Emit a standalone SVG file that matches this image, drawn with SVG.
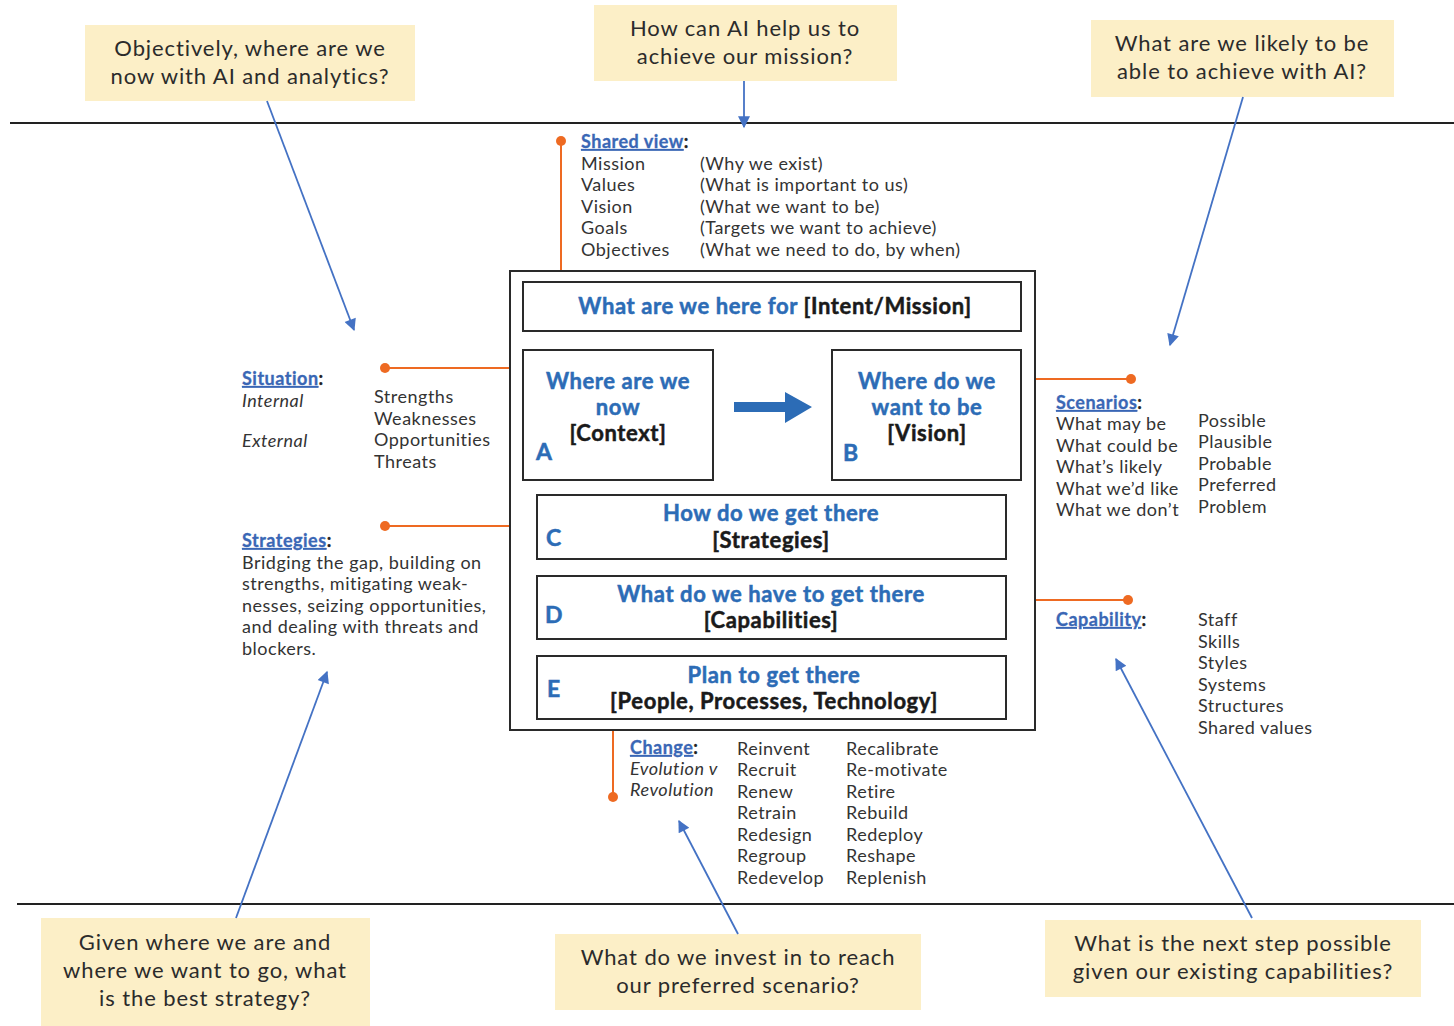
<svg xmlns="http://www.w3.org/2000/svg" width="1454" height="1026" viewBox="0 0 1454 1026">
<defs>
<style>
.q{fill:#FCEFC7;}
.qt{font-family:Lato,"Noto Sans",sans-serif;font-size:22px;letter-spacing:0.9px;fill:#2b2b2b;text-anchor:middle;}
.t{font-family:Lato,"Noto Sans",sans-serif;font-size:18px;letter-spacing:0.5px;fill:#333;}
.i{font-style:italic;}
.h{font-family:Lato,"Noto Sans",sans-serif;font-size:18px;letter-spacing:0.5px;font-weight:bold;fill:#222;stroke:#222;stroke-width:0.3;}
.u{fill:#3A67B5;stroke:#3A67B5;text-decoration:underline;}
.box{fill:none;stroke:#2a2a2a;stroke-width:2;}
.bt{font-family:Lato,"Noto Sans",sans-serif;font-size:22px;letter-spacing:0.6px;font-weight:bold;fill:#2C6CB6;stroke:#2C6CB6;stroke-width:0.5;text-anchor:middle;}
.bk{fill:#1a1a1a;stroke:#1a1a1a;}
.lt{font-family:Lato,"Noto Sans",sans-serif;font-size:23px;font-weight:bold;fill:#2C6CB6;stroke:#2C6CB6;stroke-width:0.5;}
.rule{stroke:#222;stroke-width:2;}
.blue{stroke:#4472C4;stroke-width:1.8;fill:none;marker-end:url(#ah);}
.or{stroke:#EE6A22;stroke-width:2;fill:none;}
.dot{fill:#EE6A22;}
</style>
<marker id="ah" viewBox="0 0 10 10" refX="9" refY="5" markerWidth="14" markerHeight="12" markerUnits="userSpaceOnUse" orient="auto">
<path d="M0,0 L10,5 L0,10 z" fill="#4472C4"/>
</marker>
</defs>

<g id="rules">
<line class="rule" x1="10" y1="123" x2="1454" y2="123"/>
<line class="rule" x1="17" y1="904" x2="1454" y2="904"/>
</g>

<g id="q1"><rect class="q" x="85" y="25" width="330" height="76"/>
<text class="qt" x="250" y="56">Objectively, where are we</text>
<text class="qt" x="250" y="84">now with AI and analytics?</text></g>
<g id="q2"><rect class="q" x="594" y="5" width="303" height="76"/>
<text class="qt" x="745" y="36">How can AI help us to</text>
<text class="qt" x="745" y="64">achieve our mission?</text></g>
<g id="q3"><rect class="q" x="1091" y="20" width="303" height="77"/>
<text class="qt" x="1242" y="51">What are we likely to be</text>
<text class="qt" x="1242" y="79">able to achieve with AI?</text></g>
<g id="q4"><rect class="q" x="41" y="918" width="329" height="108"/>
<text class="qt" x="205" y="950">Given where we are and</text>
<text class="qt" x="205" y="978">where we want to go, what</text>
<text class="qt" x="205" y="1006">is the best strategy?</text></g>
<g id="q5"><rect class="q" x="555" y="934" width="366" height="76"/>
<text class="qt" x="738" y="965">What do we invest in to reach</text>
<text class="qt" x="738" y="993">our preferred scenario?</text></g>
<g id="q6"><rect class="q" x="1045" y="920" width="376" height="77"/>
<text class="qt" x="1233" y="951">What is the next step possible</text>
<text class="qt" x="1233" y="979">given our existing capabilities?</text></g>

<g id="connectors">
<line class="blue" x1="267" y1="101" x2="354" y2="330"/>
<line class="blue" x1="744" y1="81" x2="744" y2="127"/>
<line class="blue" x1="1243" y1="97" x2="1170" y2="345"/>
<line class="blue" x1="236" y1="918" x2="327" y2="672"/>
<line class="blue" x1="738" y1="934" x2="679" y2="821"/>
<line class="blue" x1="1252" y1="918" x2="1116" y2="659"/>
<line class="or" x1="561" y1="141" x2="561" y2="271"/><circle class="dot" cx="561" cy="141" r="5"/>
<line class="or" x1="385" y1="368" x2="510" y2="368"/><circle class="dot" cx="385" cy="368" r="5"/>
<line class="or" x1="385" y1="526" x2="510" y2="526"/><circle class="dot" cx="385" cy="526" r="5"/>
<line class="or" x1="1036" y1="379" x2="1131" y2="379"/><circle class="dot" cx="1131" cy="379" r="5"/>
<line class="or" x1="1036" y1="600" x2="1128" y2="600"/><circle class="dot" cx="1128" cy="600" r="5"/>
<line class="or" x1="613" y1="731" x2="613" y2="797"/><circle class="dot" cx="613" cy="797" r="5"/>
<path d="M734,402 H785 V392 L812,407 L785,423 V412 H734 z" fill="#2C6CB6"/>
</g>

<g id="framework"><rect class="box" x="510" y="271" width="525" height="459"/></g>

<g id="mission"><rect class="box" x="523" y="282" width="498" height="49"/>
<text class="bt" x="775" y="314">What are we here for <tspan class="bk">[Intent/Mission]</tspan></text></g>

<g id="nodeA"><rect class="box" x="523" y="350" width="190" height="130"/>
<text class="bt" x="618" y="389">Where are we</text>
<text class="bt" x="618" y="415">now</text>
<text class="bt bk" x="618" y="441">[Context]</text>
<text class="lt" x="536" y="460">A</text></g>

<g id="nodeB"><rect class="box" x="832" y="350" width="189" height="130"/>
<text class="bt" x="927" y="389">Where do we</text>
<text class="bt" x="927" y="415">want to be</text>
<text class="bt bk" x="927" y="441">[Vision]</text>
<text class="lt" x="843" y="461">B</text></g>

<g id="nodeC"><rect class="box" x="537" y="495" width="469" height="64"/>
<text class="bt" x="771" y="521">How do we get there</text>
<text class="bt bk" x="771" y="548">[Strategies]</text>
<text class="lt" x="546" y="546">C</text></g>

<g id="nodeD"><rect class="box" x="537" y="576" width="469" height="63"/>
<text class="bt" x="771" y="602">What do we have to get there</text>
<text class="bt bk" x="771" y="628">[Capabilities]</text>
<text class="lt" x="545" y="623">D</text></g>

<g id="nodeE"><rect class="box" x="537" y="656" width="469" height="63"/>
<text class="bt" x="774" y="683">Plan to get there</text>
<text class="bt bk" x="774" y="709">[People, Processes, Technology]</text>
<text class="lt" x="547" y="697">E</text></g>

<g id="shared-view">
<text class="h" x="581" y="148"><tspan class="u">Shared view</tspan>:</text>
<text class="t" x="581" y="170">Mission</text><text class="t" x="700" y="170">(Why we exist)</text>
<text class="t" x="581" y="191">Values</text><text class="t" x="700" y="191">(What is important to us)</text>
<text class="t" x="581" y="213">Vision</text><text class="t" x="700" y="213">(What we want to be)</text>
<text class="t" x="581" y="234">Goals</text><text class="t" x="700" y="234">(Targets we want to achieve)</text>
<text class="t" x="581" y="256">Objectives</text><text class="t" x="700" y="256">(What we need to do, by when)</text>
</g>

<g id="situation">
<text class="h" x="242" y="385"><tspan class="u">Situation</tspan>:</text>
<text class="t i" x="242" y="407">Internal</text>
<text class="t i" x="242" y="447">External</text>
<text class="t" x="374" y="403">Strengths</text>
<text class="t" x="374" y="425">Weaknesses</text>
<text class="t" x="374" y="446">Opportunities</text>
<text class="t" x="374" y="468">Threats</text>
</g>

<g id="strategies">
<text class="h" x="242" y="547"><tspan class="u">Strategies</tspan>:</text>
<text class="t" x="242" y="569">Bridging the gap, building on</text>
<text class="t" x="242" y="590">strengths, mitigating weak-</text>
<text class="t" x="242" y="612">nesses, seizing opportunities,</text>
<text class="t" x="242" y="633">and dealing with threats and</text>
<text class="t" x="242" y="655">blockers.</text>
</g>

<g id="scenarios">
<text class="h" x="1056" y="409"><tspan class="u">Scenarios</tspan>:</text>
<text class="t" x="1056" y="430">What may be</text>
<text class="t" x="1056" y="452">What could be</text>
<text class="t" x="1056" y="473">What’s likely</text>
<text class="t" x="1056" y="495">What we’d like</text>
<text class="t" x="1056" y="516">What we don’t</text>
<text class="t" x="1198" y="427">Possible</text>
<text class="t" x="1198" y="448">Plausible</text>
<text class="t" x="1198" y="470">Probable</text>
<text class="t" x="1198" y="491">Preferred</text>
<text class="t" x="1198" y="513">Problem</text>
</g>

<g id="capability">
<text class="h" x="1056" y="626"><tspan class="u">Capability</tspan>:</text>
<text class="t" x="1198" y="626">Staff</text>
<text class="t" x="1198" y="648">Skills</text>
<text class="t" x="1198" y="669">Styles</text>
<text class="t" x="1198" y="691">Systems</text>
<text class="t" x="1198" y="712">Structures</text>
<text class="t" x="1198" y="734">Shared values</text>
</g>

<g id="change">
<text class="h" x="630" y="754"><tspan class="u">Change</tspan>:</text>
<text class="t i" x="630" y="775">Evolution v</text>
<text class="t i" x="630" y="796">Revolution</text>
<text class="t" x="737" y="755">Reinvent</text>
<text class="t" x="737" y="776">Recruit</text>
<text class="t" x="737" y="798">Renew</text>
<text class="t" x="737" y="819">Retrain</text>
<text class="t" x="737" y="841">Redesign</text>
<text class="t" x="737" y="862">Regroup</text>
<text class="t" x="737" y="884">Redevelop</text>
<text class="t" x="846" y="755">Recalibrate</text>
<text class="t" x="846" y="776">Re-motivate</text>
<text class="t" x="846" y="798">Retire</text>
<text class="t" x="846" y="819">Rebuild</text>
<text class="t" x="846" y="841">Redeploy</text>
<text class="t" x="846" y="862">Reshape</text>
<text class="t" x="846" y="884">Replenish</text>
</g>
</svg>
